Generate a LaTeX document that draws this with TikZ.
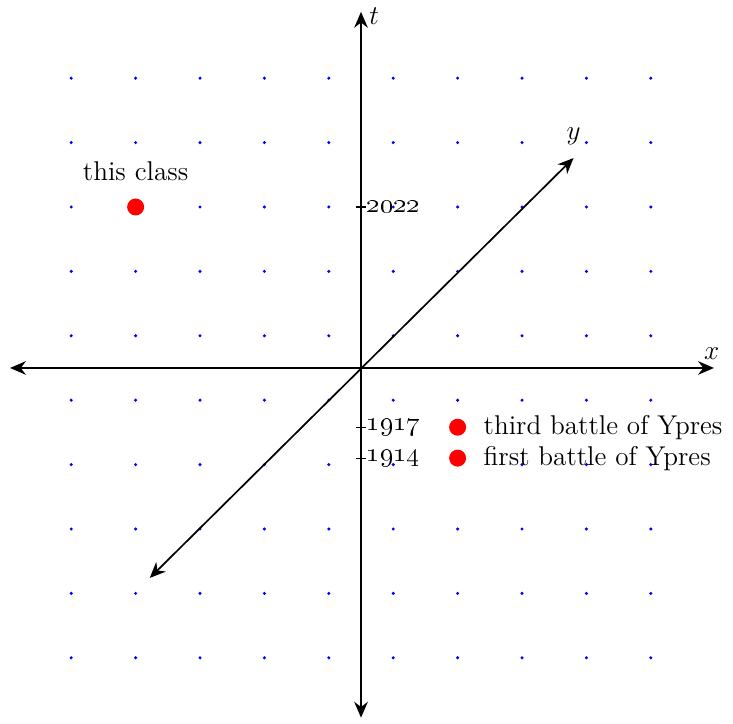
\documentclass[tikz,border=0pt]{standalone}
\usepackage{amsmath,amssymb}
\usepackage{tikz}
\usetikzlibrary{arrows.meta}

\begin{document}
\begin{tikzpicture}[font=\large,
      axis/.style={{Stealth[length=7pt,width=6pt]}-{Stealth[length=7pt,width=6pt]},line width=0.75pt},
      griddot/.style={fill=blue,circle,inner sep=0pt,minimum size=1.5pt},
      event/.style={fill=red,circle,inner sep=0pt,minimum size=7.5pt},
      tick/.style={line width=0.5pt}]
    \useasboundingbox (-5.606,-5.528) rectangle (5.776,5.714);
    % background dots
    \foreach \i in {-4.5,-3.5,...,4.5}
      \foreach \j in {-4.5,-3.5,...,4.5}
        \node[griddot] at (\i,\j) {};
    % axes
    \coordinate (xl) at (-5.45,0);
    \coordinate (xr) at (5.48,0);
    \coordinate (tb) at (0,-5.43);
    \coordinate (tt) at (0,5.53);
    \coordinate (yb) at (-3.28,-3.26);
    \coordinate (yt) at (3.3,3.26);
    \draw[axis] (xl) -- (xr) node[above,xshift=-1pt] {$x$};
    \draw[axis] (tb) -- (tt) node[right,yshift=-2pt] {$t$};
    \draw[axis] (yb) -- (yt) node[above,yshift=2pt] {$y$};
    % ticks
    \foreach \yr/\h in {2022/2.5,1917/-0.92,1914/-1.4}{
      \draw[tick] (-0.08,\h) -- (0.08,\h);
      \node[anchor=west,inner sep=1pt] (tk\yr) at (0.05,\h) {\oldstylenums{\yr}};
    }
    % events
    \node[event] (cls) at (-3.5,2.5) {};
    \node (clslab) at (-3.5,3.05) {this class};
    \node[event] (ypr3) at (1.5,-0.92) {};
    \node[anchor=west] (ypr3lab) at (1.78,-0.92) {third battle of Ypres};
    \node[event] (ypr1) at (1.5,-1.4) {};
    \node[anchor=west] (ypr1lab) at (1.78,-1.4) {first battle of Ypres};
\end{tikzpicture}
\end{document}
